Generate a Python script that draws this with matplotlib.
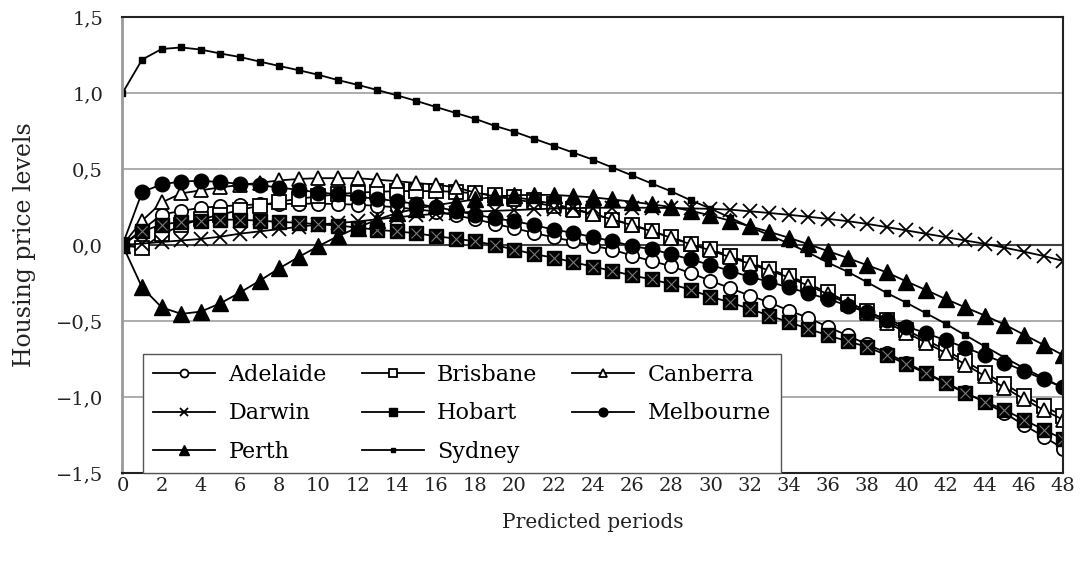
import numpy as np
import matplotlib
matplotlib.use("Agg")
import matplotlib.pyplot as plt
from matplotlib.ticker import FuncFormatter, MultipleLocator

plt.rcParams['font.family'] = ['DejaVu Serif']

periods = list(range(49))

adelaide = [0, 0.10, 0.20, 0.225, 0.245, 0.255, 0.262, 0.268, 0.27, 0.272,
            0.272, 0.27, 0.265, 0.258, 0.248, 0.235, 0.22, 0.195, 0.17, 0.14,
            0.11, 0.08, 0.05, 0.025, -0.005, -0.03, -0.07, -0.105, -0.14, -0.185,
            -0.235, -0.283, -0.333, -0.377, -0.431, -0.479, -0.54, -0.595, -0.654, -0.71,
            -0.775, -0.84, -0.905, -0.97, -1.035, -1.105, -1.185, -1.26, -1.34]
brisbane = [0, -0.02, 0.07, 0.13, 0.17, 0.2, 0.23, 0.26, 0.285, 0.305,
            0.32, 0.335, 0.345, 0.35, 0.355, 0.355, 0.355, 0.35, 0.34, 0.33,
            0.315, 0.295, 0.27, 0.24, 0.205, 0.168, 0.135, 0.092, 0.05, 0.008,
            -0.028, -0.072, -0.115, -0.159, -0.203, -0.257, -0.312, -0.375, -0.435, -0.495,
            -0.56, -0.625, -0.69, -0.765, -0.84, -0.915, -0.99, -1.06, -1.125]
canberra = [0, 0.16, 0.28, 0.34, 0.36, 0.38, 0.395, 0.41, 0.425, 0.435,
            0.44, 0.44, 0.44, 0.43, 0.42, 0.408, 0.397, 0.38, 0.345, 0.32,
            0.3, 0.28, 0.255, 0.232, 0.205, 0.168, 0.13, 0.09, 0.048, 0.005,
            -0.035, -0.08, -0.123, -0.168, -0.213, -0.268, -0.323, -0.388, -0.45, -0.51,
            -0.576, -0.643, -0.71, -0.786, -0.862, -0.938, -1.014, -1.085, -1.15]
darwin = [0, 0.01, 0.02, 0.03, 0.04, 0.055, 0.075, 0.09, 0.105, 0.12,
          0.135, 0.145, 0.155, 0.17, 0.183, 0.195, 0.205, 0.212, 0.22, 0.225,
          0.23, 0.235, 0.24, 0.243, 0.245, 0.246, 0.246, 0.245, 0.244, 0.241,
          0.238, 0.233, 0.222, 0.211, 0.199, 0.186, 0.172, 0.157, 0.139, 0.118,
          0.096, 0.074, 0.052, 0.03, 0.008, -0.017, -0.044, -0.072, -0.105]
hobart = [0, 0.09, 0.135, 0.152, 0.161, 0.167, 0.167, 0.16, 0.153, 0.146,
          0.137, 0.128, 0.115, 0.1, 0.09, 0.077, 0.058, 0.042, 0.024, 0.0,
          -0.03, -0.06, -0.083, -0.113, -0.142, -0.17, -0.2, -0.226, -0.257, -0.295,
          -0.34, -0.377, -0.42, -0.464, -0.508, -0.551, -0.595, -0.633, -0.671, -0.725,
          -0.785, -0.845, -0.91, -0.975, -1.03, -1.085, -1.15, -1.215, -1.277]
melbourne = [0, 0.348, 0.40, 0.418, 0.423, 0.414, 0.403, 0.395, 0.377, 0.364,
             0.345, 0.335, 0.316, 0.305, 0.288, 0.27, 0.25, 0.225, 0.2, 0.176,
             0.157, 0.131, 0.102, 0.08, 0.052, 0.026, -0.007, -0.028, -0.06, -0.095,
             -0.131, -0.17, -0.209, -0.242, -0.279, -0.318, -0.355, -0.399, -0.442, -0.49,
             -0.536, -0.58, -0.627, -0.675, -0.725, -0.775, -0.828, -0.884, -0.937]
perth = [0, -0.279, -0.41, -0.453, -0.438, -0.383, -0.312, -0.235, -0.153, -0.078,
         -0.007, 0.059, 0.115, 0.168, 0.21, 0.24, 0.262, 0.282, 0.3, 0.318,
         0.328, 0.33, 0.33, 0.322, 0.314, 0.3, 0.285, 0.268, 0.25, 0.225,
         0.195, 0.16, 0.124, 0.087, 0.048, 0.005, -0.04, -0.085, -0.133, -0.18,
         -0.24, -0.296, -0.355, -0.41, -0.464, -0.523, -0.59, -0.657, -0.725]
sydney = [1.0, 1.22, 1.29, 1.30, 1.286, 1.26, 1.237, 1.207, 1.178, 1.15,
          1.12, 1.085, 1.054, 1.02, 0.985, 0.948, 0.908, 0.869, 0.83, 0.784,
          0.745, 0.699, 0.654, 0.608, 0.562, 0.51, 0.458, 0.405, 0.353, 0.294,
          0.24, 0.18, 0.12, 0.065, 0.01, -0.05, -0.116, -0.176, -0.245, -0.316,
          -0.38, -0.449, -0.518, -0.593, -0.667, -0.74, -0.81, -0.875, -0.94]

fig = plt.figure(figsize=(10.82, 5.65), dpi=100)
ax = fig.add_axes([0.1132, 0.1628, 0.8695, 0.807])

lw = 1.3
h_ade, = ax.plot(periods, adelaide, color='black', lw=lw, marker='o', ms=9.5,
                 mfc='white', mec='black', mew=1.3, label='Adelaide')
h_bri, = ax.plot(periods, brisbane, color='black', lw=lw, marker='s', ms=9.5,
                 mfc='white', mec='black', mew=1.3, label='Brisbane')
h_can, = ax.plot(periods, canberra, color='black', lw=lw, marker='^', ms=10.5,
                 mfc='white', mec='black', mew=1.3, label='Canberra')
h_dar, = ax.plot(periods, darwin, color='black', lw=lw, marker='x', ms=10.5,
                 mew=1.3, label='Darwin')
h_hob, = ax.plot(periods, hobart, color='black', lw=lw, marker='s', ms=9.5,
                 mfc='black', mec='black', label='Hobart')
# grey cross pattern seen inside the hobart squares
ax.plot(periods, hobart, ls='none', marker='x', ms=7.5, mew=0.8, color='#777777')
h_mel, = ax.plot(periods, melbourne, color='black', lw=lw, marker='o', ms=10.5,
                 mfc='black', mec='black', label='Melbourne')
h_per, = ax.plot(periods, perth, color='black', lw=lw, marker='^', ms=11.5,
                 mfc='black', mec='black', label='Perth')
h_syd, = ax.plot(periods, sydney, color='black', lw=lw, marker='s', ms=4.5,
                 mfc='black', mec='black', label='Sydney')

ax.set_xlim(0, 48)
ax.set_ylim(-1.5, 1.5)
ax.xaxis.set_major_locator(MultipleLocator(2))
ax.yaxis.set_major_locator(MultipleLocator(0.5))
ax.yaxis.set_major_formatter(FuncFormatter(
    lambda v, p: ('%.1f' % v).replace('.', ',').replace('-', '\u2212')))

for y in [-1.0, -0.5, 0.5, 1.0]:
    ax.axhline(y, color='#a6a6a6', lw=1.3, zorder=0)
ax.axhline(0, color='#404040', lw=1.5, zorder=1)

ax.spines['left'].set_color('#999999')
ax.spines['left'].set_linewidth(2)
for s in ['top', 'right', 'bottom']:
    ax.spines[s].set_color('#222222')
    ax.spines[s].set_linewidth(1.5)

ax.tick_params(axis='both', length=0, labelsize=14, colors='#222222')
ax.tick_params(axis='y', pad=14)
ax.tick_params(axis='x', pad=3)

ax.set_xlabel('Predicted periods', fontsize=14.5, labelpad=13, color='#222222')
ax.set_ylabel('Housing price levels', fontsize=17, labelpad=14, color='#222222')

# legend reads row by row: reorder handles for column-major filling
handles = [h_ade, h_dar, h_per, h_bri, h_hob, h_syd, h_can, h_mel]
leg = ax.legend(handles=handles, loc='lower left',
                bbox_to_anchor=(0.0218, 0.0, 0.678, 0.265),
                mode='expand', ncol=3, fontsize=16, markerscale=0.6,
                handlelength=2.8, handletextpad=0.6, borderaxespad=0,
                fancybox=False, framealpha=1, edgecolor='#555555',
                labelspacing=0.75, borderpad=0.45, columnspacing=1.5)
leg.get_frame().set_linewidth(1.0)

fig.savefig('out.png', dpi=100)
